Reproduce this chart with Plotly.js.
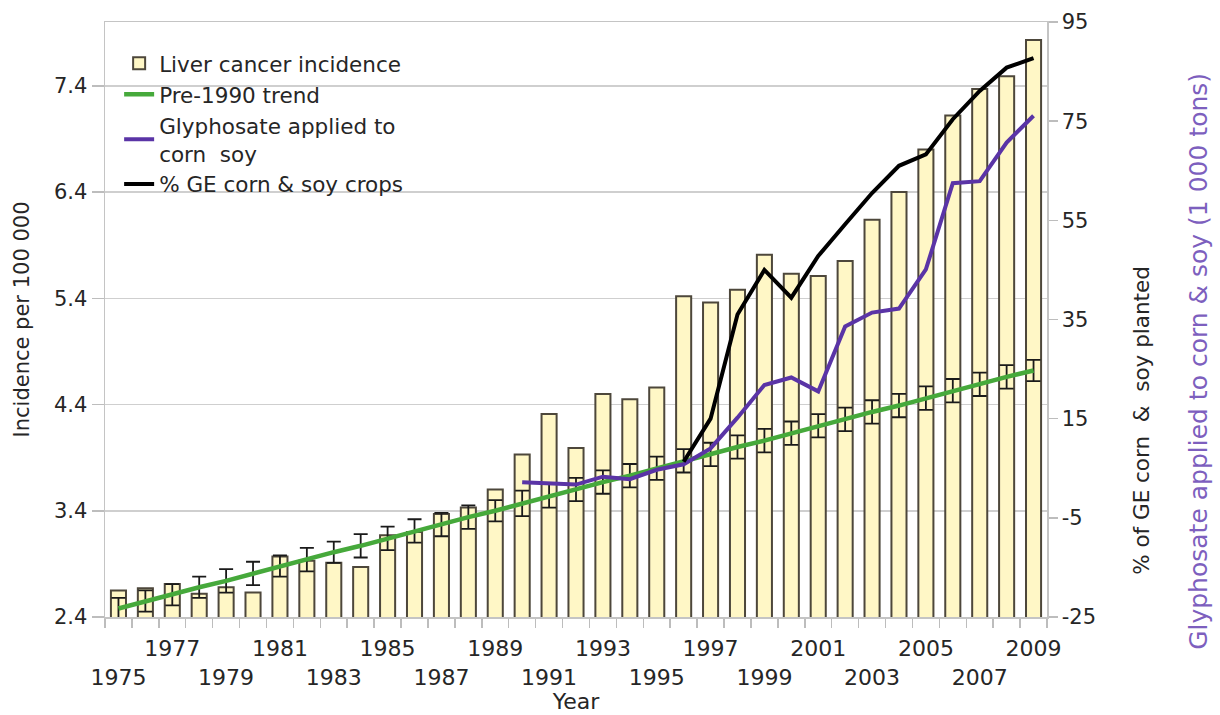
<!DOCTYPE html>
<html>
<head>
<meta charset="utf-8">
<script src="https://cdn.plot.ly/plotly-3.0.1.min.js"></script>
<style>
  html, body { margin: 0; padding: 0; background: #fff; }
  #chart { width: 1220px; height: 715px; }
</style>
</head>
<body>
<div id="chart"></div>
<script>
// ---- Data ----
const years = ["1975","1976","1977","1978","1979","1980","1981","1982","1983","1984",
               "1985","1986","1987","1988","1989","1990","1991","1992","1993","1994",
               "1995","1996","1997","1998","1999","2000","2001","2002","2003","2004",
               "2005","2006","2007","2008","2009"];

// Liver cancer incidence per 100 000 (bars, left axis)
const incidence = [2.65, 2.67, 2.71, 2.62, 2.68, 2.63, 2.97, 2.93, 2.91, 2.87,
                   3.17, 3.20, 3.37, 3.43, 3.60, 3.93, 4.31, 3.99, 4.50, 4.45,
                   4.56, 5.42, 5.36, 5.48, 5.81, 5.63, 5.61, 5.75, 6.14, 6.40,
                   6.80, 7.12, 7.37, 7.49, 7.83];

// Pre-1990 trend (green line, left axis) and its error bars
const trend = [2.48, 2.55, 2.61, 2.68, 2.74, 2.81, 2.88, 2.94, 3.01, 3.07,
               3.14, 3.21, 3.27, 3.34, 3.40, 3.47, 3.54, 3.60, 3.67, 3.73,
               3.80, 3.87, 3.93, 4.00, 4.06, 4.13, 4.20, 4.26, 4.33, 4.39,
               4.46, 4.53, 4.59, 4.66, 4.72];
const trendErr = [0.10, 0.10, 0.10, 0.10, 0.11, 0.11, 0.10, 0.11, 0.10, 0.11,
                  0.11, 0.11, 0.11, 0.11, 0.10, 0.12, 0.11, 0.11, 0.11, 0.11,
                  0.11, 0.11, 0.11, 0.11, 0.11, 0.11, 0.11, 0.11, 0.11, 0.11,
                  0.11, 0.11, 0.11, 0.11, 0.10];

// Glyphosate applied to corn & soy (purple line, right axis)
const glyYears = ["1990","1991","1992","1993","1994","1995","1996","1997","1998","1999",
                  "2000","2001","2002","2003","2004","2005","2006","2007","2008","2009"];
const glyphosate = [2.2, 2.0, 1.7, 3.3, 2.8, 4.7, 5.8, 9.0, 15.2, 21.8,
                    23.3, 20.5, 33.6, 36.4, 37.2, 45.1, 62.5, 62.9, 70.7, 76.1];

// % GE corn & soy crops (black line, right axis)
const geYears = ["1996","1997","1998","1999","2000","2001","2002","2003","2004","2005",
                 "2006","2007","2008","2009"];
const gePct = [6.3, 15.0, 36.0, 45.0, 39.4, 47.8, 54.2, 60.5, 66.0, 68.3,
               75.4, 81.1, 85.8, 87.7];

// Tick labels
const tickLabels = ["1975","","1977","","1979","","1981","","1983","",
                    "1985","","1987","","1989","","1991","","1993","",
                    "1995","","1997","","1999","","2001","","2003","",
                    "2005","","2007","","2009"];
const rightTickVals = [-25, -5, 15, 35, 55, 75, 95];
const rightTickText = ["-25", "-5", "15", "35", "55", "75", "95"];

// ---- Build chart ----
const FONT = "DejaVu Sans, Verdana, sans-serif";
const TXT = "#262626";

// staggered labels: 1975, 1979, ... on the lower row
const tickText = tickLabels.map(function (t) {
  if (t === "") return "";
  return ((parseInt(t, 10) - 1975) % 4 === 0) ? "\u00a0<br>" + t : t;
});

const traces = [
  {
    type: "bar", x: years, y: incidence, name: "Liver cancer incidence",
    marker: { color: "#fff7c6", line: { color: "#4d473b", width: 2 } },
    yaxis: "y", hoverinfo: "x+y"
  },
  {
    type: "scatter", mode: "lines", x: years, y: trend, name: "Pre-1990 trend",
    line: { color: "#46a93b", width: 4.5 },
    error_y: { type: "data", array: trendErr, visible: true, color: "#1a1a1a", thickness: 1.8, width: 7 },
    yaxis: "y"
  },
  {
    type: "scatter", mode: "lines", x: glyYears, y: glyphosate,
    name: "Glyphosate applied to<br>corn\u00a0 soy",
    line: { color: "#5a34a6", width: 4 },
    yaxis: "y2"
  },
  {
    type: "scatter", mode: "lines", x: geYears, y: gePct, name: "% GE corn & soy crops",
    line: { color: "#000000", width: 4 },
    yaxis: "y2"
  }
];

const layout = {
  width: 1220, height: 715,
  paper_bgcolor: "#ffffff", plot_bgcolor: "#ffffff",
  font: { family: FONT, size: 21, color: TXT },
  margin: { l: 105, r: 173, t: 22, b: 98, pad: 0 },
  bargap: 0.44,
  showlegend: true,
  legend: {
    x: 0.015, y: 0.965, xanchor: "left", yanchor: "top",
    bgcolor: "rgba(255,255,255,0)", borderwidth: 0,
    font: { family: FONT, size: 21.5, color: TXT },
    tracegroupgap: 0, itemwidth: 30
  },
  xaxis: {
    type: "category",
    range: [-0.5, 34.5],
    tickmode: "array", tickvals: years, ticktext: tickText,
    tickson: "boundaries",
    ticks: "outside", ticklen: 9, tickcolor: "#bdbdbd", tickwidth: 1.5,
    ticklabelstandoff: 11,
    showline: true, linecolor: "#c4c4c4", linewidth: 1.5, mirror: true,
    showgrid: false, zeroline: false,
    tickangle: 0,
    tickfont: { family: FONT, size: 22, color: TXT },
    title: { text: "Year", font: { family: FONT, size: 22, color: TXT }, standoff: 4 },
    automargin: false
  },
  yaxis: {
    range: [2.4, 8.0],
    tickmode: "linear", tick0: 2.4, dtick: 1,
    tickformat: ".1f",
    ticks: "outside", ticklen: 12, tickcolor: "#bdbdbd", tickwidth: 1.5,
    showline: true, linecolor: "#c4c4c4", linewidth: 1.5,
    showgrid: true, gridcolor: "#cfcfcf", gridwidth: 1.5,
    zeroline: false,
    tickfont: { family: FONT, size: 21, color: TXT },
    title: { text: "Incidence per 100 000", font: { family: FONT, size: 21, color: TXT }, standoff: 18 },
    automargin: false
  },
  yaxis2: {
    overlaying: "y", side: "right",
    range: [-25, 95],
    tickmode: "array", tickvals: rightTickVals, ticktext: rightTickText,
    ticks: "outside", ticklen: 9, tickcolor: "#bdbdbd", tickwidth: 1.5,
    showline: true, linecolor: "#c4c4c4", linewidth: 1.5,
    showgrid: false, zeroline: false,
    tickfont: { family: FONT, size: 21, color: TXT },
    automargin: false
  },
  annotations: [
    {
      text: "% of GE corn\u00a0 &\u00a0 soy planted",
      xref: "paper", yref: "paper", x: 1.1, y: 0.33,
      xanchor: "center", yanchor: "middle", textangle: -90, showarrow: false,
      font: { family: FONT, size: 21.5, color: TXT }
    },
    {
      text: "Glyphosate applied to corn & soy (1 000 tons)",
      xref: "paper", yref: "paper", x: 1.16, y: 0.43,
      xanchor: "center", yanchor: "middle", textangle: -90, showarrow: false,
      font: { family: FONT, size: 25, color: "#7d5fbe" }
    }
  ]
};

Plotly.newPlot("chart", traces, layout, { displayModeBar: false, staticPlot: true });
</script>
</body>
</html>
